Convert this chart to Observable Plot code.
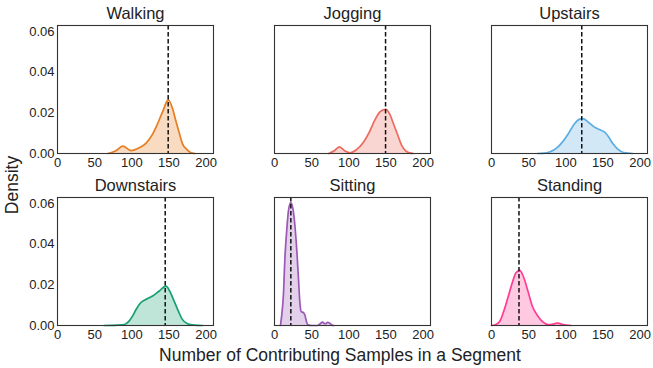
<!DOCTYPE html>
<html>
<head>
<meta charset="utf-8">
<script src="https://cdn.jsdelivr.net/npm/d3@7"></script>
<script src="https://cdn.jsdelivr.net/npm/@observablehq/plot@0.6"></script>
<style>
  html, body { margin: 0; padding: 0; background: #fff; }
  #wrap { position: relative; width: 653px; height: 368px; font-family: "Liberation Sans", Arial, sans-serif; color: #222; }
  #xlabel { position: absolute; left: 340px; top: 345px; transform: translateX(-50%); font-size: 17.5px; line-height: 20px; white-space: nowrap; }
  #ylabel { position: absolute; left: 12px; top: 185px; transform: translate(-50%, -50%) rotate(-90deg); font-size: 17.5px; line-height: 20px; white-space: nowrap; }
</style>
</head>
<body>
<div id="wrap">
  <div id="chart"></div>
  <div id="xlabel">Number of Contributing Samples in a Segment</div>
  <div id="ylabel">Density</div>
</div>
<script>
const activities = ["Walking", "Jogging", "Upstairs", "Downstairs", "Sitting", "Standing"];
const lineColors = ["#e67e22", "#ee6a5e", "#5dade2", "#17a072", "#9b59b6", "#ff3d94"];
const medians = [149, 149.5, 121.5, 145, 22, 37];
const xTicks = [0, 50, 100, 150, 200];
const yTicks = [0, 0.02, 0.04, 0.06];

const walkingX = [68, 78, 88, 99, 110, 119, 128, 135, 142, 149, 155, 159, 164, 168, 174, 179, 185];
const walkingY = [0, 0.0012, 0.0036, 0.0014, 0.0028, 0.005, 0.0095, 0.0149, 0.021, 0.0264, 0.022, 0.0165, 0.01, 0.005, 0.002, 0.0005, 0];

const joggingX = [73, 80, 87.5, 95, 102, 110, 120, 128, 135, 142, 149.5, 155, 160, 166, 171, 177, 182, 187];
const joggingY = [0, 0.0012, 0.0033, 0.0012, 0.0003, 0.0018, 0.0057, 0.0108, 0.0164, 0.0205, 0.0217, 0.0195, 0.0148, 0.009, 0.0041, 0.0012, 0.0003, 0];

const upstairsX = [62, 72, 80, 87, 94, 103, 112, 118, 123, 130, 138, 145, 152, 158, 163, 170, 178, 190];
const upstairsY = [0, 0.0002, 0.001, 0.0025, 0.005, 0.0095, 0.0148, 0.0168, 0.0172, 0.0155, 0.0131, 0.0118, 0.0106, 0.008, 0.005, 0.0022, 0.0005, 0];

const downstairsX = [63, 80, 90, 96, 101, 106, 112, 120, 128, 137, 146, 151, 157, 163, 168, 175, 184, 195];
const downstairsY = [0, 0.0002, 0.0005, 0.002, 0.0046, 0.008, 0.0112, 0.013, 0.0145, 0.017, 0.0194, 0.017, 0.012, 0.0068, 0.003, 0.0009, 0.0002, 0];

const sittingX = [8, 10, 12, 14, 16.5, 19, 22, 25, 28, 30, 32, 34, 36, 39, 41, 43, 45, 50, 58, 62, 64.5, 67, 69, 71.5, 74, 77, 80];
const sittingY = [0, 0.006, 0.015, 0.033, 0.047, 0.057, 0.0605, 0.057, 0.047, 0.037, 0.025, 0.012, 0.0068, 0.0063, 0.005, 0.002, 0.0003, 0, 0, 0.001, 0.0017, 0.001, 0.0009, 0.0016, 0.0012, 0.0003, 0];

const standingX = [0, 5, 11, 16, 22, 28, 33, 38, 43, 49, 55, 62.5, 69, 76, 82, 89, 96, 107];
const standingY = [0, 0.0004, 0.002, 0.0065, 0.0136, 0.021, 0.026, 0.0271, 0.024, 0.017, 0.0095, 0.0046, 0.0018, 0.0005, 0.0006, 0.0012, 0.0005, 0];

const seriesX = [walkingX, joggingX, upstairsX, downstairsX, sittingX, standingX];
const seriesY = [walkingY, joggingY, upstairsY, downstairsY, sittingY, standingY];

const curves = [];
activities.forEach((a, i) => {
  seriesX[i].forEach((x, j) => {
    curves.push({activity: a, col: i % 3, row: Math.floor(i / 3), x, y: seriesY[i][j], color: lineColors[i]});
  });
});
const panels = activities.map((a, i) => ({activity: a, col: i % 3, row: Math.floor(i / 3), median: medians[i]}));

const chart = Plot.plot({
  width: 653,
  height: 345,
  marginLeft: 56,
  marginRight: 5,
  marginTop: 25,
  marginBottom: 20,
  style: {fontFamily: "Liberation Sans, Arial, sans-serif", fontSize: "13px", color: "#222", background: "#fff"},
  fx: {axis: null, paddingInner: 0.28, paddingOuter: 0},
  fy: {axis: null, paddingInner: 0.256, paddingOuter: 0},
  x: {domain: [0, 210]},
  y: {domain: [0, 0.063]},
  color: {type: "identity"},
  marks: [
    Plot.areaY(curves, {x: "x", y: "y", fx: "col", fy: "row", z: "activity", fill: "color", fillOpacity: 0.28, curve: "monotone-x"}),
    Plot.lineY(curves, {x: "x", y: "y", fx: "col", fy: "row", z: "activity", stroke: "color", strokeWidth: 1.7, curve: "monotone-x"}),
    Plot.ruleX(panels, {x: "median", fx: "col", fy: "row", stroke: "#111", strokeWidth: 1.5, strokeDasharray: "4.5,2.5"}),
    Plot.frame({stroke: "#333", strokeWidth: 1.1}),
    Plot.text(panels, {fx: "col", fy: "row", text: "activity", frameAnchor: "top", dy: -12, lineAnchor: "middle", fontSize: 16.5, fill: "#222"}),
    Plot.axisX({ticks: xTicks, tickSize: 0, tickPadding: 4, label: null, facetAnchor: null, fontSize: 13}),
    Plot.axisY({ticks: yTicks, tickSize: 0, tickPadding: 3, tickFormat: ".2f", label: null, facetAnchor: "left", fontSize: 13})
  ]
});
document.getElementById("chart").appendChild(chart);
</script>
</body>
</html>
